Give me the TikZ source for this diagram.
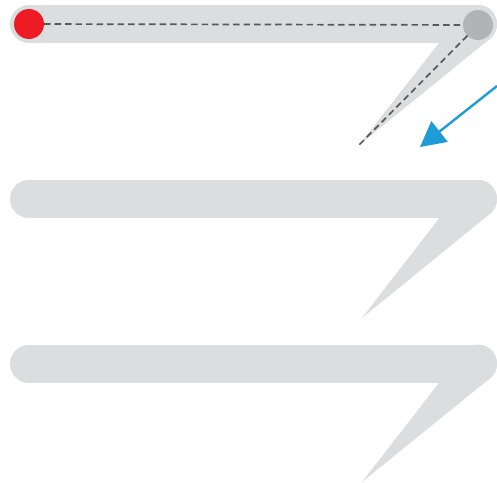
\documentclass[tikz,border=0pt]{standalone}
\usetikzlibrary{calc,arrows.meta}
\definecolor{bandgray}{HTML}{DCDDDF}
\definecolor{knobgray}{HTML}{B1B3B6}
\definecolor{dotred}{HTML}{ED1C24}
\definecolor{dashgray}{HTML}{595959}
\definecolor{arrowblue}{HTML}{1F9BD7}
\begin{document}
\begin{tikzpicture}[x=1pt,y=-1pt,
  bandline/.style={draw=bandgray,line width=38pt,line cap=round},
  bandfill/.style={fill=bandgray},
  hub/.style={circle,minimum size=38pt,inner sep=0pt,outer sep=0pt},
  dot/.style={circle,minimum size=30pt,inner sep=0pt,outer sep=0pt},
  guide/.style={draw=dashgray,line width=1.7pt,dash pattern=on 6.5pt off 4pt},
  pointer/.style={draw=arrowblue,line width=2.4pt,-{Triangle[length=25pt,width=26pt]}}]
\useasboundingbox (0,0) rectangle (497,482);
\foreach \cy/\tx/\ty [count=\i] in {24/359/145, 199/362/318, 363.5/362/482} {
  \draw[bandline] (29,\cy) -- (478,\cy);
  \node[hub] (h\i) at (478,\cy) {};
  \coordinate (t\i) at (\tx,\ty);
  \fill[bandfill] (478,\cy) circle (19pt);
  \fill[bandfill] (t\i) -- (tangent cs:node=h\i,point={(t\i)},solution=1)
     -- (h\i.center) -- (tangent cs:node=h\i,point={(t\i)},solution=2) -- cycle;
}
\node[dot,fill=dotred] (r) at (29,24) {};
\node[dot,fill=knobgray] (g) at (478,25) {};
\draw[guide] (r) -- (g) -- (t1);
\coordinate (bs) at (497,86);
\coordinate (be) at (420,147);
\draw[pointer] (bs) -- (be);
\end{tikzpicture}
\end{document}
